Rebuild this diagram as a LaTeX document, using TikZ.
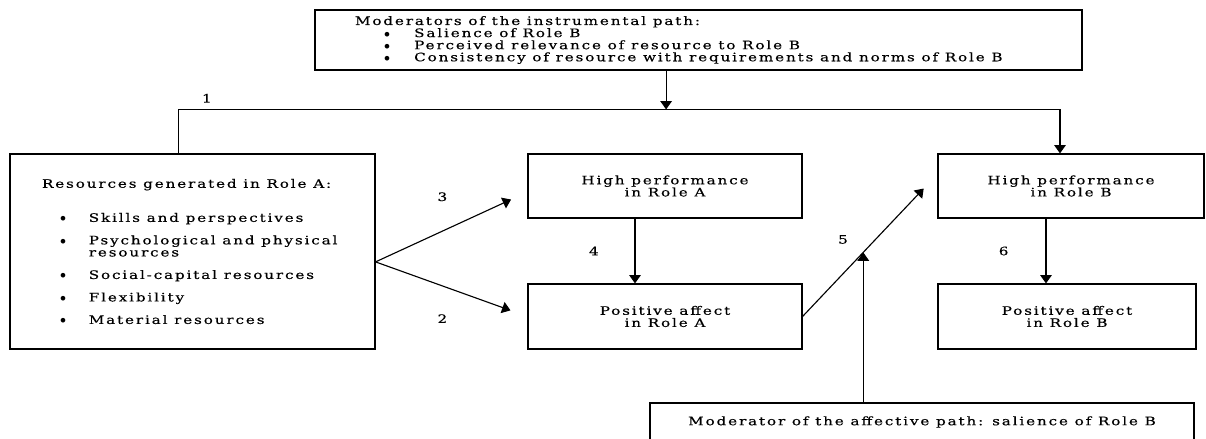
\documentclass[tikz,border=0pt]{standalone}
\usepackage{fontspec}
\setmainfont{DejaVu Serif}[FakeStretch=1.3,LetterSpace=16,FakeBold=0.4]
\usepackage{tikz}
\usetikzlibrary{arrows.meta,positioning,calc}
\newcommand{\bitem}[2]{\hspace*{#1}$\bullet$\hspace*{#2}}

\begin{document}
\begin{tikzpicture}[
  box/.style={draw, line width=0.8pt, align=center, minimum height=16mm,
    font=\fontsize{8.3}{8.6}\selectfont},
  listbox/.style={box, align=left,
    execute at begin node={\spaceskip=0pt\xspaceskip=0pt\relax}},
  flow/.style={-{Triangle[length=2.1mm,width=2.9mm]}, line width=0.8pt},
  numlabel/.style={font=\fontsize{8.3}{8.6}\selectfont, inner sep=1pt}
]
\useasboundingbox (0,0) rectangle (30.15,10.975);
\clip (0,0) rectangle (30.15,10.975);

% Moderators of the instrumental path.
\node[listbox, text width=17.175cm, inner xsep=1cm, minimum height=15mm] (modI) at (17.4625,9.975) {
  Moderators of the instrumental path:\\
  \bitem{7.3mm}{6mm}Salience of Role B\\
  \bitem{7.3mm}{6mm}Perceived relevance of resource to Role B\\
  \bitem{7.3mm}{6mm}Consistency of resource with requirements and norms of Role B
};

% Resources.
\node[listbox, text width=7.525cm, inner xsep=0.8cm, minimum height=4.875cm] (resA) at (4.8125,4.6875) {
  Resources generated in Role A:\\[5.5mm]
  \bitem{4.5mm}{5.7mm}Skills and perspectives\\[2.6mm]
  \bitem{4.5mm}{5.7mm}Psychological and physical\\
  \hspace*{4.5mm}\phantom{$\bullet$}\hspace*{5.7mm}resources\\[2.6mm]
  \bitem{4.5mm}{5.7mm}Social-capital resources\\[2.6mm]
  \bitem{4.5mm}{5.7mm}Flexibility\\[2.6mm]
  \bitem{4.5mm}{5.7mm}Material resources
};

% Role A outcomes.
\node[box, minimum width=6.85cm] (hpA) at (16.625,6.325) {High performance\\in Role A};
\node[box, minimum width=6.85cm, minimum height=16.25mm] (paA) at (16.625,3.0625) {Positive affect\\in Role A};

% Role B outcomes.
\node[box, minimum width=6.65cm] (hpB) at (26.775,6.325) {High performance\\in Role B};
\node[box, minimum width=6.45cm, minimum height=16.25mm] (paB) at (26.675,3.0625) {Positive affect\\in Role B};

% Moderator of the affective path.
\node[box, minimum width=13.6cm, minimum height=9.5mm] (modB) at (23.05,0.425) {Moderator of the affective path: salience of Role B};

% Instrumental path 1.
\draw[flow] ([xshift=-3.6mm]resA.north) -- ++(0,1.1) coordinate (split) -| ([xshift=-2.75mm]hpB.north);
\node[numlabel] (n1) at ($(split)+(0.72,0.28)$) {1};
\coordinate (tapI) at ([xshift=-8.1mm]modI.south);
\draw[flow] (tapI) -- (tapI |- split);

% Paths 2 and 3.
\coordinate (fork) at ([yshift=-2.6mm]resA.east);
\draw[flow, shorten >=4.5mm] (fork) -- node[numlabel, pos=0.44, above=7mm] {3} ([yshift=-1.5mm]hpA.west);
\draw[flow, shorten >=4.5mm] (fork) -- node[numlabel, pos=0.44, below=6.6mm] {2} (paA.west);

% Paths 4, 5 and 6.
\draw[flow] ([xshift=-7.5mm]hpA.south) -- node[numlabel, left=8.6mm] {4} ([xshift=-7.5mm]paA.north);
\draw[flow, shorten >=5mm] (paA.east) -- coordinate[pos=0.45] (mid5) node[numlabel, pos=0.3, above=7mm] {5} ([yshift=3mm]hpB.west);
\coordinate (tap6) at ([xshift=-6.25mm]hpB.south);
\draw[flow] (tap6) -- node[numlabel, left=8.9mm] {6} (tap6 |- paB.north);

% Affective moderator.
\draw[flow] (mid5 |- modB.north) -- (mid5);

\end{tikzpicture}
\end{document}
